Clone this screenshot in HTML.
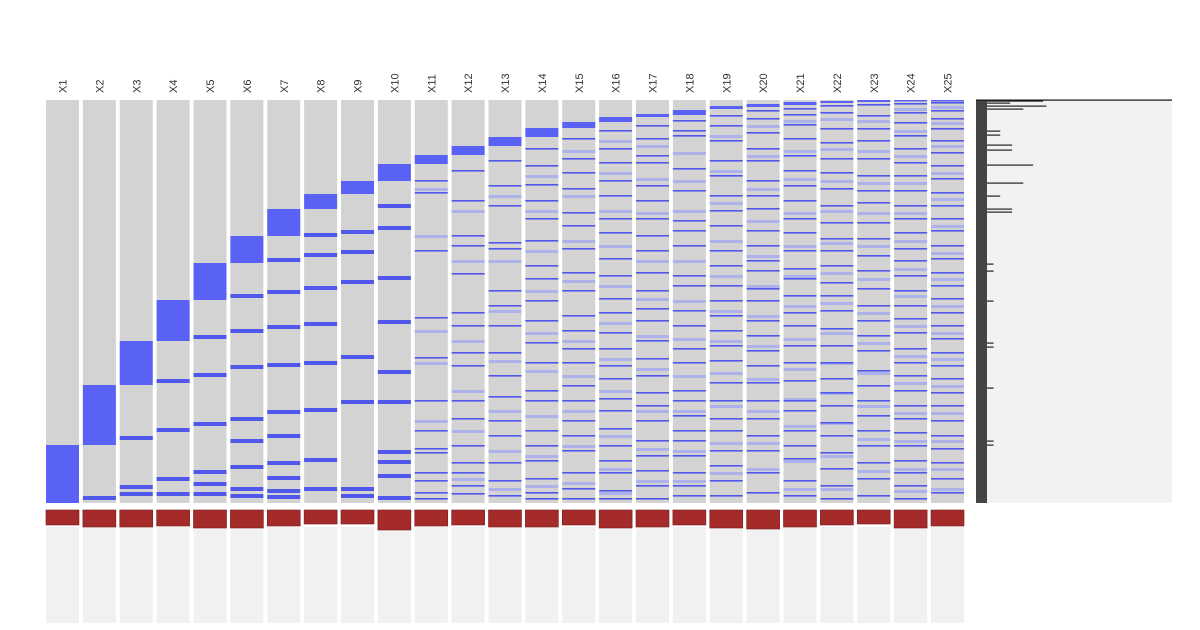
<!DOCTYPE html>
<html><head><meta charset="utf-8"><style>
html,body{margin:0;padding:0;background:#fff;}
svg{display:block;font-family:"Liberation Sans",sans-serif;}
</style></head><body>
<svg id="chart" width="1200" height="630" viewBox="0 0 1200 630"></svg>
<script>
const categories = ["X1","X2","X3","X4","X5","X6","X7","X8","X9","X10","X11","X12","X13","X14","X15","X16","X17","X18","X19","X20","X21","X22","X23","X24","X25"];
// solid block [start,end] in row units (0..403)
const blocks = [[345,403],[285,345],[241,285],[200,241],[163,200],[136,163],[109,136],[94,109],[81,94],[64,81],[55,64],[46,55],[37,46],[28,37],[22,28],[17,22],[14,17],[10,15],[6,9],[4,7],[2,5],[1,3],[0,2],[0,1],[0,1]];
const redHeights = [15,17,17,16,18,18,16,14,14,20,16,15,17,17,15,18,17,15,18,19,17,15,14,18,16];
const darkLines = [
 [],
 [396],
 [336,385,392],
 [279,328,377,392],
 [235,273,322,370,382,392],
 [194,229,265,317,339,365,387,394],
 [158,190,225,263,310,334,361,376,389,395],
 [133,153,186,222,261,308,358,387],
 [130,150,180,255,300,387,394],
 [104,126,176,220,270,300,350,360,374,396],
 [80,92,150,217,257,300,330,348,352,372,380,392,398],
 [70,100,135,145,173,212,225,252,265,300,318,345,362,372,385,393],
 [60,85,105,142,148,190,205,225,252,275,296,320,335,362,380,395],
 [48,65,84,100,118,140,165,178,200,220,242,262,290,300,330,345,360,378,392,398],
 [38,58,72,88,112,125,148,172,190,215,230,248,262,285,300,320,335,350,372,388,398],
 [30,48,62,80,95,118,132,158,175,198,212,232,248,265,278,298,310,328,345,360,372,390,398],
 [25,38,55,62,85,100,118,135,150,172,190,208,220,240,258,275,292,305,320,340,355,370,385,398],
 [20,30,35,68,90,120,130,145,175,185,210,225,248,262,290,300,315,330,340,355,372,385,395],
 [15,25,40,60,75,95,110,125,150,165,185,200,215,230,245,260,282,300,318,330,350,365,380,395],
 [10,18,32,48,60,80,95,108,130,145,160,170,188,200,220,235,250,265,282,300,318,335,350,372,392],
 [8,14,24,38,55,70,85,100,118,132,150,168,178,195,212,225,245,262,280,300,310,330,345,358,380,395],
 [5,12,28,42,58,72,88,105,122,138,150,165,182,195,210,228,245,262,278,292,305,322,335,352,368,385,398],
 [4,15,28,40,58,75,90,102,122,138,155,170,188,205,220,235,250,270,285,300,315,330,345,362,378,395],
 [3,12,22,35,48,62,75,90,105,118,132,148,160,175,190,205,218,232,248,262,275,290,305,318,332,345,360,372,385,398],
 [2,10,18,28,40,52,65,78,92,105,118,130,145,158,172,185,198,212,225,238,252,265,278,292,305,320,335,348,362,378,392]
];
const softLines = [
 [],[],[],[],[],[],[],[],[],[],
 [88,135,230,262,320],[110,160,240,290,330,378],[95,160,210,260,310,350,388],[75,110,150,190,232,270,315,355,385],[50,95,140,180,240,275,310,345,382],
 [40,72,110,145,185,222,258,290,335,368,392],[45,78,112,160,198,235,268,310,348,380],[52,80,110,160,200,238,275,310,350,380],[35,70,102,140,175,210,240,272,305,342,372],[25,55,88,120,155,185,215,245,278,310,342,368],
 [20,50,78,112,145,175,205,238,268,298,325,360,388],[18,48,80,110,142,172,202,232,262,292,322,355,388],[20,50,82,112,145,178,212,242,272,305,338,370],[8,30,55,82,112,140,168,195,225,255,282,312,340,368,390],[6,22,45,72,98,125,152,178,205,232,258,285,312,340,368,388]
];
const sideBars = [[0,0.85],[2,0.35],[5,0.9],[8,0.55],[30,0.2],[34,0.2],[44,0.38],[49,0.38],[64,0.7],[82,0.55],[95,0.2],[108,0.38],[111,0.38],[163,0.1],[170,0.1],[200,0.1],[242,0.1],[246,0.1],[287,0.1],[340,0.1],[344,0.1]];

const NS="http://www.w3.org/2000/svg";
const svg=document.getElementById('chart');
const x0=46, pitch=36.875, colW=33, yTop=100, yBot=503, rowMax=403;
const xCol=i=>x0+i*pitch;
const yRow=r=>yTop+(r/rowMax)*(yBot-yTop);
function mk(tag,attrs){const e=document.createElementNS(NS,tag);for(const k in attrs)e.setAttribute(k,attrs[k]);svg.appendChild(e);return e;}

categories.forEach((c,i)=>{
  const x=xCol(i);
  const t=mk('text',{x:0,y:0,transform:`translate(${x+colW/2+4},${93}) rotate(-90)`,'font-size':'11','fill':'#333'});
  t.textContent=c;
  
  
  const bg=mk('rect',{x:x,y:yTop,width:colW,height:yBot-yTop,fill:'#d3d3d3'});
  
  
  softLines[i].forEach(r=>{
    const l=mk('rect',{x:x,y:yRow(r),width:colW,height:3,fill:'#aeb2ea'});
    
    
  });
  const lh = i<10 ? 4 : 1.6;
  darkLines[i].forEach(r=>{
    const l=mk('rect',{x:x,y:yRow(r),width:colW,height:lh,fill:'#5058ec'});
    
    
  });
  const b=blocks[i];
  const bl=mk('rect',{x:x,y:yRow(b[0]),width:colW,height:Math.max(1.5,yRow(b[1])-yRow(b[0])),fill:'#5a62f6'});
  
  
  const lo=mk('rect',{x:x,y:527,width:colW,height:96,fill:'#f1f1f1'});
  
  
  const rb=mk('rect',{x:x,y:510,width:colW,height:redHeights[i],fill:'#a52a2a',stroke:'#7a1c1c','stroke-width':0.6});
  
  
});

const panel=mk('rect',{x:976,y:100,width:196,height:403,fill:'#f2f2f2'});


const dark=mk('rect',{x:976,y:100,width:11,height:403,fill:'#444'});


const topLine=mk('rect',{x:976,y:99.5,width:196,height:1.2,fill:'#111'});


sideBars.forEach(s=>{
  const r=mk('rect',{x:987,y:yRow(s[0])+0.5,width:s[1]*66,height:1.2,fill:'#222'});
  
  
});
</script>
</body></html>
